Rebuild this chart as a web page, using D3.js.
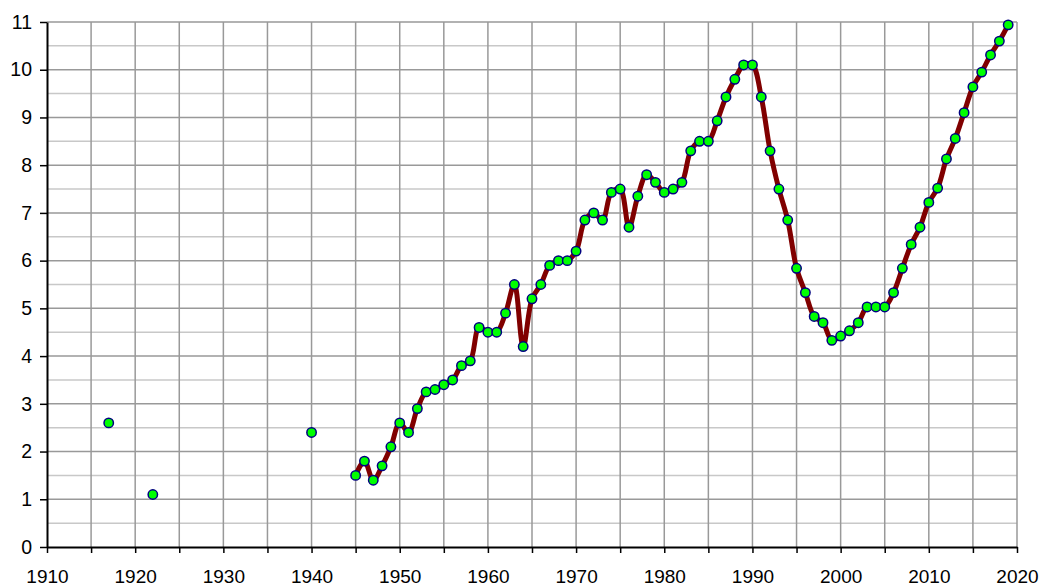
<!DOCTYPE html>
<html>
<head>
<meta charset="utf-8">
<script src="https://cdn.jsdelivr.net/npm/d3@7"></script>
<style>
  html, body { margin: 0; padding: 0; background: #fff; }
  svg { display: block; }
  text { font-family: "Liberation Sans", Arial, sans-serif; }
</style>
</head>
<body>
<svg id="chart" width="1042" height="588"></svg>
<script>
// Isolated early observations (not connected)
const isolatedYears  = [1917, 1922, 1940];
const isolatedValues = [2.6, 1.1, 2.4];

// Continuous annual series 1945–2019
const years = [
  1945,1946,1947,1948,1949,1950,1951,1952,1953,1954,
  1955,1956,1957,1958,1959,1960,1961,1962,1963,1964,
  1965,1966,1967,1968,1969,1970,1971,1972,1973,1974,
  1975,1976,1977,1978,1979,1980,1981,1982,1983,1984,
  1985,1986,1987,1988,1989,1990,1991,1992,1993,1994,
  1995,1996,1997,1998,1999,2000,2001,2002,2003,2004,
  2005,2006,2007,2008,2009,2010,2011,2012,2013,2014,
  2015,2016,2017,2018,2019
];
const values = [
  1.5, 1.8, 1.4, 1.7, 2.1, 2.6, 2.4, 2.9, 3.25, 3.3,
  3.4, 3.5, 3.8, 3.9, 4.6, 4.5, 4.5, 4.9, 5.5, 4.2,
  5.2, 5.5, 5.9, 6.0, 6.0, 6.2, 6.85, 7.0, 6.85, 7.43,
  7.5, 6.7, 7.35, 7.8, 7.64, 7.43, 7.5, 7.64, 8.3, 8.5,
  8.5, 8.93, 9.43, 9.8, 10.1, 10.1, 9.43, 8.3, 7.5, 6.85,
  5.84, 5.33, 4.83, 4.7, 4.33, 4.42, 4.53, 4.7, 5.03, 5.03,
  5.03, 5.33, 5.84, 6.34, 6.7, 7.22, 7.52, 8.13, 8.56, 9.1,
  9.64, 9.95, 10.31, 10.6, 10.94
];

const xTickLabels = [1910,1920,1930,1940,1950,1960,1970,1980,1990,2000,2010,2020];
const yTickLabels = [0,1,2,3,4,5,6,7,8,9,10,11];

const svg = d3.select("#chart");
const pL = 47, pR = 1017, pT = 22, pB = 547;

const x = d3.scaleLinear().domain([1910, 2020]).range([pL, pR]);
const y = d3.scaleLinear().domain([0, 11]).range([pB, pT]);

// Minor horizontal grid (every 0.5)
const minorY = d3.range(0.5, 11, 1);
svg.append("g").selectAll("line").data(minorY).join("line")
  .attr("x1", pL).attr("x2", pR)
  .attr("y1", d => y(d)).attr("y2", d => y(d))
  .attr("stroke", "#c8c8c8").attr("stroke-width", 1.5);

// Major horizontal grid
svg.append("g").selectAll("line").data(d3.range(1, 12)).join("line")
  .attr("x1", pL).attr("x2", pR)
  .attr("y1", d => y(d)).attr("y2", d => y(d))
  .attr("stroke", "#999").attr("stroke-width", 1.5);

// Vertical grid every 5 years
svg.append("g").selectAll("line").data(d3.range(1915, 2021, 5)).join("line")
  .attr("x1", d => x(d)).attr("x2", d => x(d))
  .attr("y1", pT).attr("y2", pB)
  .attr("stroke", "#999").attr("stroke-width", 1.5);

// Axes
const xAxis = d3.axisBottom(x)
  .tickValues(d3.range(1910, 2021, 5))
  .tickSize(6)
  .tickSizeOuter(0)
  .tickFormat(d => xTickLabels.includes(d) ? String(d) : "");
const gx = svg.append("g").attr("transform", `translate(0,${pB})`).call(xAxis);
gx.select(".domain").attr("stroke", "#000").attr("stroke-width", 2);
gx.selectAll(".tick line").attr("stroke", "#000").attr("stroke-width", 1.5);
gx.selectAll(".tick text").attr("font-size", 19).attr("fill", "#000")
  .attr("font-family", "Liberation Sans, Arial, sans-serif")
  .attr("y", 36).attr("dy", 0);

const yAxis = d3.axisLeft(y)
  .tickValues(yTickLabels)
  .tickSize(7)
  .tickSizeOuter(0)
  .tickFormat(d3.format("d"));
const gy = svg.append("g").attr("transform", `translate(${pL},0)`).call(yAxis);
gy.select(".domain").attr("stroke", "#000").attr("stroke-width", 2);
gy.selectAll(".tick line").attr("stroke", "#000").attr("stroke-width", 1.5);
gy.selectAll(".tick text").attr("font-size", 19.5).attr("fill", "#000")
  .attr("font-family", "Liberation Sans, Arial, sans-serif")
  .attr("x", -15);

// Smoothed line
const pts = years.map((yr, i) => [yr, values[i]]);
const line = d3.line().x(d => x(d[0])).y(d => y(d[1])).curve(d3.curveCatmullRom.alpha(0.5));
svg.append("path").datum(pts)
  .attr("d", line)
  .attr("fill", "none")
  .attr("stroke", "#800000")
  .attr("stroke-width", 5)
  .attr("stroke-linejoin", "round")
  .attr("stroke-linecap", "round");

// Markers
const allPts = isolatedYears.map((yr, i) => [yr, isolatedValues[i]]).concat(pts);
svg.append("g").selectAll("circle").data(allPts).join("circle")
  .attr("cx", d => x(d[0])).attr("cy", d => y(d[1]))
  .attr("r", 4.7)
  .attr("fill", "#00ff00")
  .attr("stroke", "#000080")
  .attr("stroke-width", 1.5);
</script>
</body>
</html>
